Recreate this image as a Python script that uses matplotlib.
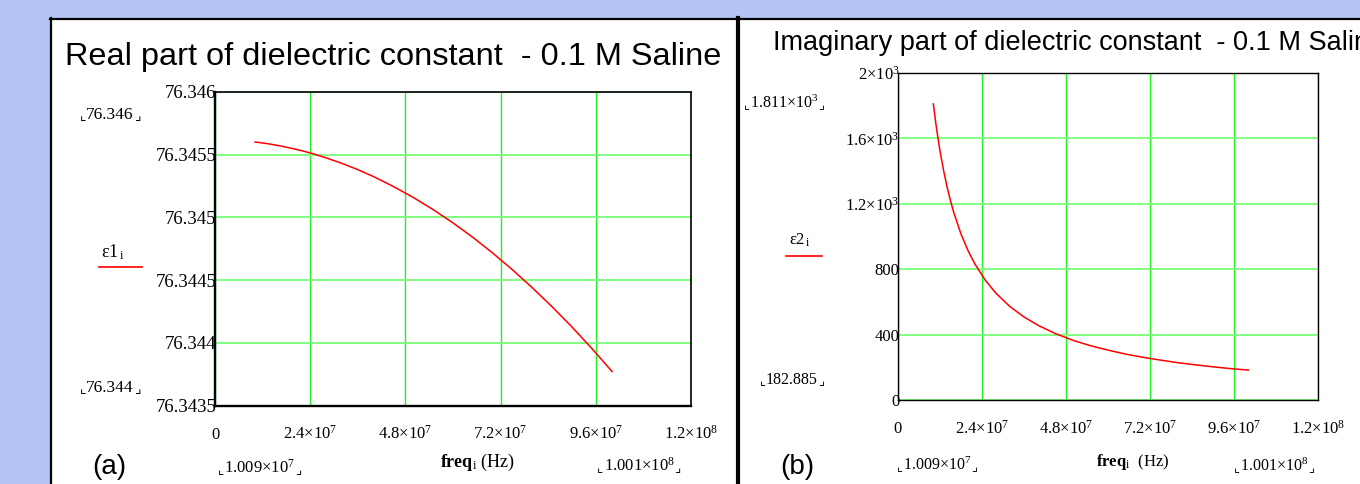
import matplotlib
matplotlib.use("Agg")
import matplotlib.pyplot as plt
from matplotlib.lines import Line2D
from matplotlib.patches import Rectangle
from matplotlib.text import Annotation

plt.rcParams['font.family'] = ['Liberation Serif', 'DejaVu Sans']
plt.rcParams['mathtext.fontset'] = 'custom'
plt.rcParams['mathtext.rm'] = 'Liberation Serif'
plt.rcParams['mathtext.it'] = 'Liberation Serif:italic'
plt.rcParams['mathtext.bf'] = 'Liberation Serif:bold'
plt.rcParams['mathtext.default'] = 'regular'

# ---------------- data ----------------
freq = [1.009e7, 1.1e7, 1.2e7, 1.3e7, 1.4e7, 1.5e7, 1.6e7, 1.8e7, 2.0e7, 2.2e7,
        2.5e7, 2.8e7, 3.2e7, 3.6e7, 4.0e7, 4.5e7, 5.0e7, 5.5e7, 6.0e7, 6.5e7,
        7.0e7, 7.5e7, 8.0e7, 8.5e7, 9.0e7, 9.5e7, 1.001e8]
eps1 = [76.345601, 76.345598, 76.345593, 76.345589, 76.345584, 76.345578,
        76.345573, 76.345560, 76.345546, 76.345531, 76.345505, 76.345475,
        76.345431, 76.345381, 76.345325, 76.345246, 76.345159, 76.345062,
        76.344956, 76.344841, 76.344716, 76.344582, 76.344439, 76.344287,
        76.344126, 76.343955, 76.343771]
eps2 = [1811.0, 1661.0, 1523.0, 1406.0, 1305.0, 1218.0, 1142.0, 1015.0, 914.0,
        831.0, 731.0, 653.0, 571.0, 508.0, 457.0, 406.0, 365.0, 332.0, 305.0,
        281.0, 261.0, 244.0, 228.0, 215.0, 203.0, 192.0, 182.885]

xticks = [0, 2.4e7, 4.8e7, 7.2e7, 9.6e7, 1.2e8]
xtick_labels = ["0", r"$2.4{\times}10^{7}$", r"$4.8{\times}10^{7}$",
                r"$7.2{\times}10^{7}$", r"$9.6{\times}10^{7}$", r"$1.2{\times}10^{8}$"]
yticks_a = [76.3435, 76.344, 76.3445, 76.345, 76.3455, 76.346]
ytick_labels_a = ["76.3435", "76.344", "76.3445", "76.345", "76.3455", "76.346"]
yticks_b = [0, 400, 800, 1200, 1600, 2000]
ytick_labels_b = ["0", "400", "800", r"$1.2{\times}10^{3}$", r"$1.6{\times}10^{3}$",
                  r"$2{\times}10^{3}$"]

title_a = "Real part of dielectric constant  - 0.1 M Saline"
title_b = "Imaginary part of dielectric constant  - 0.1 M Saline"
ylim_labels_a = ["76.346", "76.344"]
ylim_labels_b = [r"$1.811{\times}10^{3}$", "182.885"]
xlim_labels = [r"$1.009{\times}10^{7}$", r"$1.001{\times}10^{8}$"]

W, H = 1360, 484
BG = '#b3c4f4'
GRID_V = '#22ee22'
GRID_H = '#80ff80'

fig = plt.figure(figsize=(W / 100, H / 100), dpi=100, facecolor=BG)


def px(x, y):
    return x / W, 1 - y / H


# white panel with black border
fig.add_artist(Rectangle(px(50, 484), (W - 50) / W, (484 - 18) / H,
                         transform=fig.transFigure, facecolor='white',
                         edgecolor='none', zorder=0))
fig.add_artist(Line2D([50 / W, 1], [1 - 18.5 / H] * 2, transform=fig.transFigure,
                      color='black', lw=1.6, zorder=1))
fig.add_artist(Line2D([51 / W] * 2, [0, 1 - 18 / H], transform=fig.transFigure,
                      color='black', lw=1.6, zorder=1))
fig.add_artist(Line2D([738 / W] * 2, [0, 1 - 18 / H], transform=fig.transFigure,
                      color='black', lw=3.0, zorder=1))


def style_axes(ax, yt, ytl, xfs, yfs, spine_lw, left_lw):
    ax.set_xlim(0, 1.2e8)
    ax.set_xticks(xticks)
    ax.set_xticklabels(xtick_labels, fontsize=xfs)
    ax.set_yticks(yt)
    ax.set_yticklabels(ytl, fontsize=yfs)
    ax.tick_params(length=0)
    ax.tick_params(axis='y', pad=-1)
    ax.tick_params(axis='x', pad=24)
    for lab in ax.get_xticklabels():
        lab.set_verticalalignment('baseline')
    ax.xaxis.grid(True, color=GRID_V, lw=1.0)
    ax.yaxis.grid(True, color=GRID_H, lw=1.4)
    ax.set_axisbelow(True)
    for s in ('top', 'right'):
        ax.spines[s].set_linewidth(spine_lw)
    for s in ('left', 'bottom'):
        ax.spines[s].set_linewidth(left_lw)


# ---------------- panel (a) ----------------
axa = fig.add_axes([215 / W, 1 - 405.5 / H, 476 / W, 313.5 / H])
axa.plot(freq, eps1, color='red', lw=1.1)
axa.set_ylim(76.3435, 76.346)
style_axes(axa, yticks_a, ytick_labels_a, 12, 13.5, 1.2, 1.7)

# ---------------- panel (b) ----------------
axb = fig.add_axes([898 / W, 1 - 400 / H, 420 / W, 327 / H])
axb.plot(freq, eps2, color='red', lw=1.1)
axb.set_ylim(0, 2000)
style_axes(axb, yticks_b, ytick_labels_b, 12, 12, 1.0, 1.0)

# ---------------- titles ----------------
fig.text(*px(65, 57), title_a, family='Liberation Sans', fontsize=23.4,
         ha='left', va='center')
fig.text(*px(773, 43), title_b, family='Liberation Sans', fontsize=19.5,
         ha='left', va='center')
fig.text(*px(109, 467), "(a)", family='Liberation Sans', fontsize=20,
         ha='center', va='center')
fig.text(*px(797, 467), "(b)", family='Liberation Sans', fontsize=20,
         ha='center', va='center')

LB, RB = "\u231e", "\u231f"


def lim_label(x, y, s, fs):
    t = fig.text(*px(x, y), s, fontsize=fs, ha='center', va='center')
    fig.add_artist(Annotation(LB, xy=(0, 0), xycoords=t, ha='right',
                              va='bottom', fontsize=fs * 0.8,
                              family='DejaVu Sans'))
    fig.add_artist(Annotation(RB, xy=(1, 0), xycoords=t, ha='left',
                              va='bottom', fontsize=fs * 0.8,
                              family='DejaVu Sans'))


lim_label(110, 115, ylim_labels_a[0], 12.5)
lim_label(110, 388, ylim_labels_a[1], 12.5)
lim_label(260, 468, xlim_labels[0], 12)
lim_label(639, 466, xlim_labels[1], 12)

lim_label(784, 103, ylim_labels_b[0], 11.5)
lim_label(792, 380, ylim_labels_b[1], 11.5)
lim_label(937, 465, xlim_labels[0], 11.5)
lim_label(1274, 466, xlim_labels[1], 11.5)

# trace labels with red legend lines
fig.text(*px(113, 252), r"$\mathregular{ε1}_{\,\mathregular{i}}$", fontsize=13,
         ha='center', va='center')
fig.add_artist(Line2D([99 / W, 142 / W], [1 - 267 / H] * 2,
                      transform=fig.transFigure, color='red', lw=1.2))
fig.text(*px(800, 240), r"$\mathregular{ε2}_{\,\mathregular{i}}$", fontsize=12,
         ha='center', va='center')
fig.add_artist(Line2D([786 / W, 822 / W], [1 - 256 / H] * 2,
                      transform=fig.transFigure, color='red', lw=1.2))

# x axis labels
fig.text(*px(477, 462), r"$\mathbf{freq}_{\mathregular{i}}$ (Hz)", fontsize=13,
         ha='center', va='center')
fig.text(*px(1133, 462), r"$\mathbf{freq}_{\mathregular{i}}$  (Hz)", fontsize=12,
         ha='center', va='center')

fig.savefig("out.png", dpi=100, facecolor=BG)
